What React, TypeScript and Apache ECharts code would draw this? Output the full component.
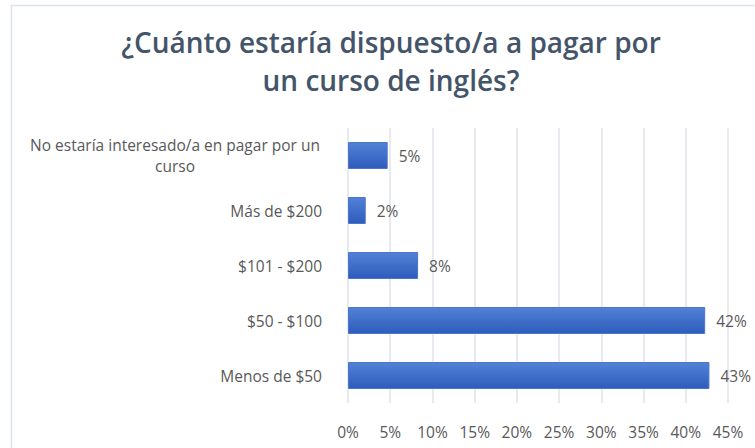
import React, { useEffect, useRef } from "react";
import * as echarts from "echarts";

const categories = [
  "Menos de $50",
  "$50 - $100",
  "$101 - $200",
  "Más de $200",
  "No estaría interesado/a en pagar por un curso",
];
const values = [42.8, 42.3, 8.3, 2.1, 4.7];
const xTicks = [0, 5, 10, 15, 20, 25, 30, 35, 40, 45];
const titleLines = ["¿Cuánto estaría dispuesto/a a pagar por", "un curso de inglés?"];

export default function App() {
  const ref = useRef<HTMLDivElement>(null);
  useEffect(() => {
    if (!ref.current) return;
    const chart = echarts.init(ref.current, undefined, { renderer: "svg" });
    const font = "'Open Sans', sans-serif";
    const fs = 15.5;
    chart.setOption({
      animation: false,
      backgroundColor: "#ffffff",
      title: {
        text: titleLines.join("\n"),
        left: 391,
        top: 23,
        padding: 0,
        textAlign: "center",
        textStyle: {
          fontFamily: font,
          fontSize: 28,
          fontWeight: 600,
          color: "#44546a",
          lineHeight: 38,
        },
      },
      graphic: [
        { type: "line", shape: { x1: 11, y1: 5.5, x2: 755, y2: 5.5 }, style: { stroke: "#dde3ec", lineWidth: 1.5 } },
        { type: "line", shape: { x1: 11.5, y1: 5, x2: 11.5, y2: 448 }, style: { stroke: "#dde3ec", lineWidth: 1.5 } },
      ],
      grid: { left: 348, right: 27, top: 128, bottom: 45 },
      xAxis: {
        type: "value",
        min: xTicks[0],
        max: xTicks[xTicks.length - 1],
        interval: 5,
        axisLine: { show: false },
        axisTick: { show: false },
        splitLine: { show: true, lineStyle: { color: "#dfe3ea", width: 1.5 } },
        axisLabel: {
          margin: 21,
          fontFamily: font,
          fontSize: fs,
          color: "#595959",
          formatter: (v: number) => `${v}%`,
        },
      },
      yAxis: {
        type: "category",
        data: categories,
        axisLine: { show: false },
        axisTick: { show: false },
        axisLabel: {
          margin: 26,
          fontFamily: font,
          fontSize: fs,
          color: "#595959",
          formatter: (v: string) => {
            if (v.length > 30) {
              const idx = v.lastIndexOf(" ");
              return `{c|${v.slice(0, idx)}}\n{c|${v.slice(idx + 1)}}`;
            }
            return v;
          },
          rich: {
            c: {
              width: 294,
              align: "center",
              fontFamily: font,
              fontSize: fs,
              color: "#595959",
              lineHeight: 21,
            },
          },
        },
      },
      series: [
        {
          type: "bar",
          data: values,
          barWidth: 27,
          itemStyle: {
            color: new echarts.graphic.LinearGradient(0, 0, 0, 1, [
              { offset: 0, color: "#5281d6" },
              { offset: 1, color: "#2d5cbd" },
            ]),
            borderColor: "#4a76cc",
            borderWidth: 1,
          },
          label: {
            show: true,
            position: "right",
            distance: 11,
            fontFamily: font,
            fontSize: fs,
            color: "#595959",
            formatter: (p: any) => `${Math.round(p.value)}%`,
          },
        },
      ],
    });
    return () => chart.dispose();
  }, []);
  return (
    <div
      ref={ref}
      style={{ position: "fixed", left: 0, top: 0, width: 755, height: 448 }}
    />
  );
}
